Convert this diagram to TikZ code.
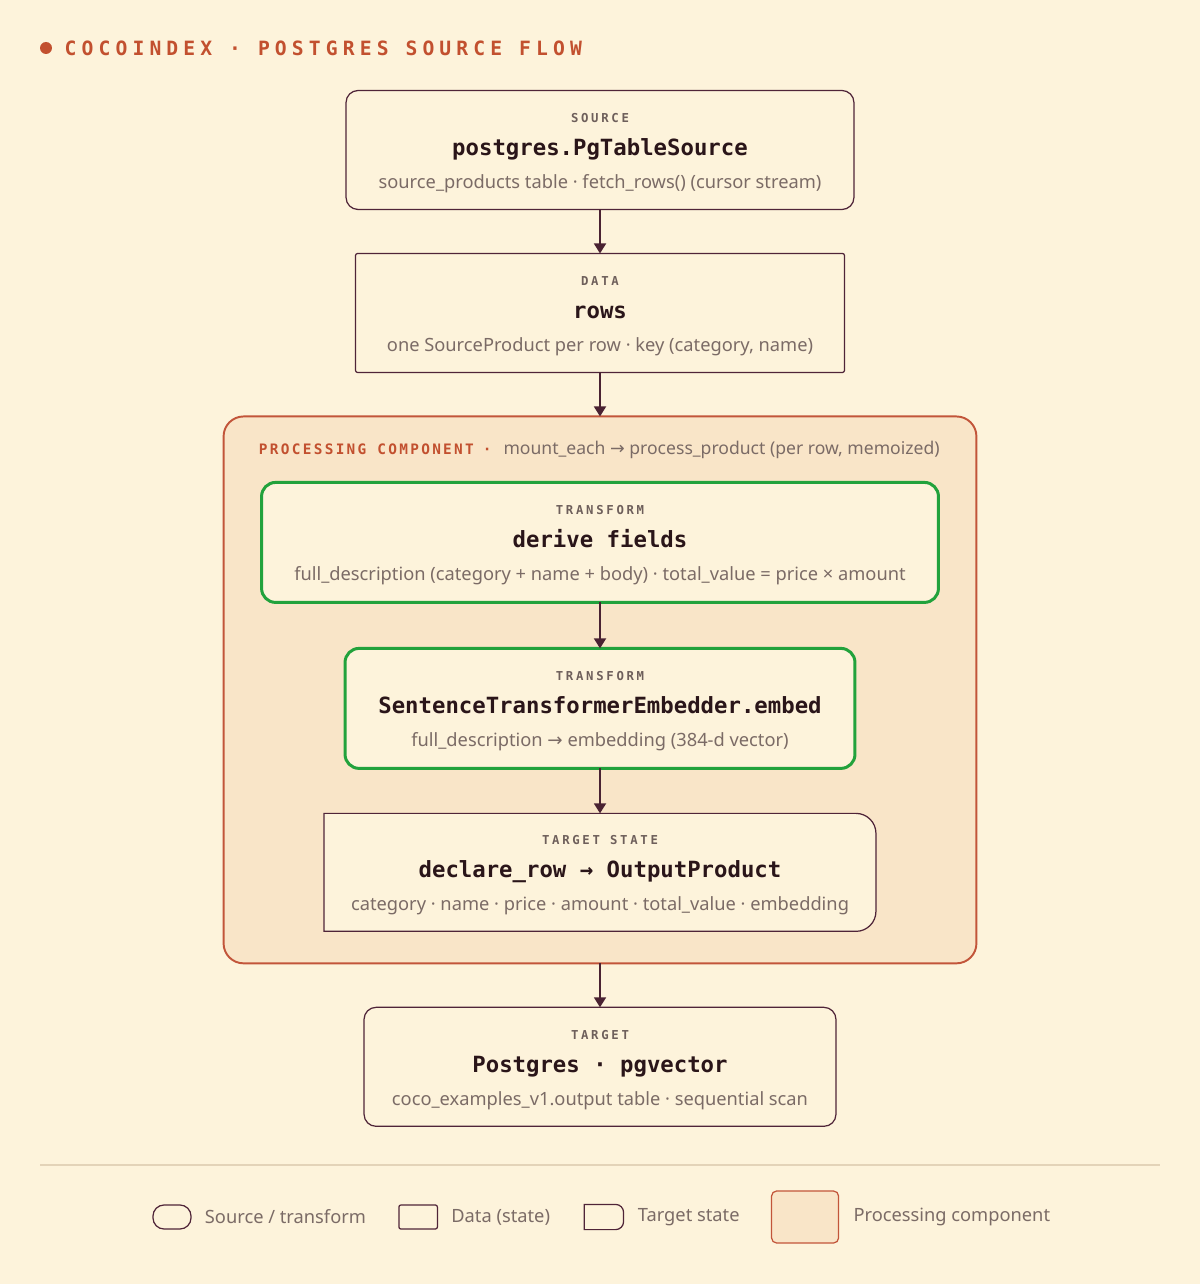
\documentclass[tikz,border=0pt]{standalone}
\usepackage{fontspec}
\usepackage{xcolor}
\usepackage{tikz}
\usetikzlibrary{arrows.meta,positioning}

\setmainfont{Noto Sans}
\newfontfamily\arrowfont{DejaVu Sans}
\newfontfamily\codefont{DejaVu Sans Mono}
\newfontfamily\capsfont[LetterSpace=22]{DejaVu Sans Mono}
\newfontfamily\titlefont[LetterSpace=26]{DejaVu Sans Mono}
\newfontfamily\headfont[LetterSpace=16]{DejaVu Sans Mono}

\definecolor{bgcream}{HTML}{FDF3DB}
\definecolor{compfill}{HTML}{F9E5C8}
\definecolor{compline}{HTML}{C2553A}
\definecolor{boxline}{HTML}{4F2438}
\definecolor{flowline}{HTML}{4A2232}
\definecolor{flowgreen}{HTML}{22A23C}
\definecolor{inktext}{HTML}{2A1519}
\definecolor{graytext}{HTML}{7B6B66}
\definecolor{lbltext}{HTML}{6E5F5B}
\definecolor{accent}{HTML}{C2502F}
\definecolor{rulecol}{HTML}{E3D3B8}

\newcommand{\boxlabel}{\capsfont\bfseries\fontsize{7}{18.8}\selectfont\color{lbltext}\rule{0pt}{8.5pt}}
\newcommand{\boxtitle}{\codefont\bfseries\fontsize{12.7}{18.8}\selectfont\color{inktext}}
\newcommand{\boxnote}{\rmfamily\fontsize{10.4}{18.8}\selectfont\color{graytext}}
\newcommand{\rarr}{{\arrowfont →}}

\begin{document}
\begin{tikzpicture}[x=0.02cm, y=0.02cm,
box/.style={align=center, inner sep=0pt, outer sep=0pt, minimum height=2.38cm, fill=bgcream, line width=0.7pt, font=\fontsize{10.4}{18.8}\selectfont},
srcbox/.style={box, draw=boxline, rounded corners=0.24cm},
databox/.style={box, draw=boxline, rounded corners=0.04cm},
xformbox/.style={box, draw=flowgreen, line width=1.7pt, rounded corners=0.28cm, minimum height=2.4cm},
tsbox/.style={box, fill=none, minimum height=2.36cm},
tsline/.style={draw=boxline, fill=bgcream, line width=0.7pt},
compbox/.style={draw=compline, fill=compfill, line width=1.1pt, rounded corners=0.4cm, inner sep=0pt, outer sep=0pt, minimum width=15.06cm, minimum height=10.94cm},
arrow/.style={-{Triangle[width=6.8pt,length=5.7pt]}, line width=1.1pt, draw=flowline},
legendtext/.style={inner sep=0pt, text=graytext, font=\fontsize{10.4}{12}\selectfont},
legendbox/.style={draw=boxline, line width=0.7pt, inner sep=0pt, minimum width=0.77cm, minimum height=0.48cm}
]
\fill[bgcream] (0,0) rectangle (1200,-1284);
\useasboundingbox (0,0) rectangle (1200,-1284);

% title
\node[circle, fill=accent, inner sep=0pt, minimum size=0.24cm] (dot) at (46,-48) {};
\node[right=0.24cm of dot, inner sep=0pt, text=accent, font=\titlefont\bfseries\fontsize{11.2}{14}\selectfont] (title) {COCOINDEX · POSTGRES SOURCE FLOW};

% flow
\node[srcbox, minimum width=10.16cm] (src) at (600,-150) {{\boxlabel SOURCE}\\{\boxtitle postgres.PgTableSource}\\{\boxnote source\_products table · fetch\_rows() (cursor stream)}};
\node[databox, minimum width=9.78cm, below=0.88cm of src] (rows) {{\boxlabel DATA}\\{\boxtitle rows}\\{\boxnote one SourceProduct per row · key (category, name)}};
\node[compbox, below=0.88cm of rows] (comp) {};
\node[anchor=west, inner sep=0pt] (comphead) at ([xshift=0.7cm, yshift=-0.66cm]comp.north west) {{\headfont\bfseries\fontsize{8.2}{12}\selectfont\color{accent}PROCESSING COMPONENT\hspace{0.18cm}·}\hspace{0.24cm}{\fontsize{10}{12}\selectfont\color{graytext}mount\_each \rarr{} process\_product (per row, memoized)}};
\node[xformbox, minimum width=13.54cm, below=1.32cm of comp.north] (derive) {{\boxlabel TRANSFORM}\\{\boxtitle derive fields}\\{\boxnote full\_description (category + name + body) · total\_value = price × amount}};
\node[xformbox, minimum width=10.2cm, below=0.92cm of derive] (embed) {{\boxlabel TRANSFORM}\\{\boxtitle SentenceTransformerEmbedder.embed}\\{\boxnote full\_description \rarr{} embedding (384-d vector)}};
\coordinate[below=0.9cm of embed] (tstop);
\draw[tsline] ([xshift=-5.52cm]tstop) -- ([xshift=5.12cm]tstop) arc[start angle=90, end angle=0, radius=0.4cm] -- ++(0,-1.56cm) arc[start angle=0, end angle=-90, radius=0.4cm] -- ++(-10.64cm,0) -- cycle;
\node[tsbox, minimum width=11.04cm, below=0pt of tstop] (tstate) {{\boxlabel TARGET STATE}\\{\boxtitle declare\_row → OutputProduct}\\{\boxnote category · name · price · amount · total\_value · embedding}};
\node[srcbox, minimum width=9.44cm, below=0.88cm of comp] (pgv) {{\boxlabel TARGET}\\{\boxtitle Postgres · pgvector}\\{\boxnote coco\_examples\_v1.output table · sequential scan}};

\draw[arrow] (src) -- (rows);
\draw[arrow] (rows) -- (comp);
\draw[arrow] (derive) -- (embed);
\draw[arrow] (embed) -- (tstate);
\draw[arrow] (comp) -- (pgv);

% legend
\draw[rulecol, line width=0.6pt] (40,-1165) -- (1160,-1165);
\node[legendbox, rounded corners=0.22cm, minimum width=0.76cm] (lgsrc) at (172,-1217) {};
\node[legendtext, right=0.26cm of lgsrc] (lgsrctext) {Source / transform};
\node[legendbox, rounded corners=0.04cm, right=0.64cm of lgsrctext] (lgdata) {};
\node[legendtext, right=0.26cm of lgdata] (lgdatatext) {Data (state)};
\node[legendbox, draw=none, minimum width=0.76cm, right=0.68cm of lgdatatext] (lgts) {};
\draw[boxline, line width=0.7pt] (lgts.south west) -- (lgts.north west) -- ([xshift=-0.16cm]lgts.north east) arc[start angle=90, end angle=0, radius=0.16cm] -- ([yshift=0.16cm]lgts.south east) arc[start angle=0, end angle=-90, radius=0.16cm] -- cycle;
\node[legendtext, right=0.28cm of lgts] (lgtstext) {Target state};
\node[legendbox, draw=compline, fill=compfill, rounded corners=0.1cm, minimum width=1.34cm, minimum height=1.04cm, right=0.62cm of lgtstext] (lgcomp) {};
\node[legendtext, right=0.28cm of lgcomp] (lgcomptext) {Processing component};
\end{tikzpicture}
\end{document}
